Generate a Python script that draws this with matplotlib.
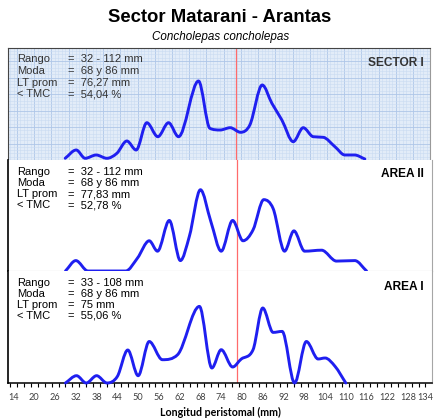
import numpy as np
import matplotlib
matplotlib.use("Agg")
import matplotlib.pyplot as plt
from matplotlib.path import Path
from matplotlib.patches import PathPatch
from matplotlib.ticker import MultipleLocator, FixedLocator
from matplotlib.transforms import ScaledTranslation

# frecuencias (%) por longitud peristomal (mm)
long_sector = [29, 32.2, 34.8, 38, 41.1, 44, 46.9, 49.6, 52.7, 55.9, 59, 61.9, 67.7, 71, 74,
               76.9, 79.9, 82.6, 86.2, 89, 91.9, 95.2, 98.1, 101, 103.9, 107.3, 110.2, 113, 116]
frec_sector = [0.17, 1.0, 0.17, 0.5, 0.17, 0.67, 1.9, 1.0, 3.73, 2.33, 3.73, 2.33, 7.9, 3.17, 3.0,
               3.23, 2.77, 3.5, 7.5, 5.67, 4.0, 1.83, 3.23, 2.33, 2.27, 1.33, 0.5, 0.5, 0.1]

long_area2 = [29, 32, 35.5, 40, 46.4, 49.8, 53.2, 55.6, 59, 62.2, 64.8, 68, 71, 74,
              77.3, 80.3, 83.2, 86.3, 89, 92.3, 95, 98.1, 103, 107.3, 112.6, 116]
frec_area2 = [0.0, 1.05, 0.0, 0.0, 0.0, 1.3, 3.05, 2.0, 5.1, 1.05, 3.5, 8.2, 5.0, 2.0,
              5.1, 3.05, 4.15, 7.2, 6.3, 2.0, 4.05, 2.0, 2.1, 1.0, 1.05, 0.0]

long_area1 = [29, 32.2, 35, 38, 41, 44, 47, 50, 53.2, 57, 61.4, 67.7, 71.3, 74, 77.3, 79.8,
              83.2, 86, 89, 91.6, 95.2, 98.6, 102, 104, 106.9, 110]
frec_area1 = [0.0, 0.73, 0.0, 0.73, 0.0, 0.66, 3.3, 0.73, 4.15, 2.33, 2.83, 7.66, 1.5, 3.33, 1.6, 2.4,
              3.33, 7.5, 5.06, 5.16, 0.0, 4.15, 2.4, 2.5, 1.66, 0.0]

paneles = ["SECTOR I", "AREA II", "AREA I"]
stats_labels = ["Rango", "Moda", "LT prom", "< TMC"]
stats_sector = ["=  32 - 112 mm", "=  68 y 86 mm", "=  76,27 mm", "=  54,04 %"]
stats_area2 = ["=  32 - 112 mm", "=  68 y 86 mm", "=  77,83 mm", "=  52,78 %"]
stats_area1 = ["=  33 - 108 mm", "=  68 y 86 mm", "=  75 mm", "=  55,06 %"]
tmc = 78.5
xticks = list(range(14, 135, 6))

W, H = 435, 420


def fx(px):
    return px / W


def fy(py):
    return 1 - py / H


def smooth_path(x, y):
    # curva suavizada (hermite monotona) como trazado bezier
    x = np.asarray(x, float)
    y = np.asarray(y, float)
    d = np.diff(y) / np.diff(x)
    m = np.zeros_like(y)
    m[1:-1] = (d[:-1] + d[1:]) / 2
    m[0] = d[0]
    m[-1] = d[-1]
    for i in range(1, len(y) - 1):
        if d[i - 1] * d[i] <= 0:
            m[i] = 0
    for i in range(len(d)):
        if d[i] == 0:
            m[i] = m[i + 1] = 0
        else:
            a, b = m[i] / d[i], m[i + 1] / d[i]
            s = a * a + b * b
            if s > 9:
                t = 3 / np.sqrt(s)
                m[i] = t * a * d[i]
                m[i + 1] = t * b * d[i]
    verts = [(x[0], y[0])]
    codes = [Path.MOVETO]
    for i in range(len(d)):
        h = x[i + 1] - x[i]
        verts += [(x[i] + h / 3, y[i] + m[i] * h / 3),
                  (x[i + 1] - h / 3, y[i + 1] - m[i + 1] * h / 3),
                  (x[i + 1], y[i + 1])]
        codes += [Path.CURVE4] * 3
    return Path(verts, codes)


fig = plt.figure(figsize=(4.35, 4.2), dpi=100)
fig.patch.set_facecolor("white")

ax_s = fig.add_axes([fx(8), fy(160), fx(430) - fx(8), (160 - 48) / H])
ax_2 = fig.add_axes([fx(8), fy(271), fx(432) - fx(8), (271 - 160) / H])
ax_1 = fig.add_axes([fx(8), fy(383), fx(432) - fx(8), (383 - 271) / H])

series = [(ax_s, long_sector, frec_sector), (ax_2, long_area2, frec_area2), (ax_1, long_area1, frec_area1)]

for ax, xs, ys in series:
    ax.set_xlim(12.4, 134.9)
    ax.set_ylim(0, 11.2)
    ax.set_yticks([])
    ax.axvline(tmc, color="#ff6b6b", lw=0.9, zorder=2)
    ax.add_patch(PathPatch(smooth_path(xs, ys), fill=False, edgecolor="#1f1ff0", lw=2.1,
                           clip_on=False, zorder=5, capstyle="round", joinstyle="round"))

# papel milimetrado del sector
ax_s.set_facecolor("#e2ecf8")
ax_s.xaxis.set_major_locator(MultipleLocator(5))
ax_s.xaxis.set_minor_locator(MultipleLocator(1))
ax_s.yaxis.set_major_locator(MultipleLocator(1.65))
ax_s.yaxis.set_minor_locator(MultipleLocator(0.33))
ax_s.grid(which="major", color="#aec6e8", lw=0.6)
ax_s.grid(which="minor", color="#c9dbf2", lw=0.4)
ax_s.set_axisbelow(True)
ax_s.tick_params(which="both", length=0, labelbottom=False, labelleft=False)
for side in ["top", "left"]:
    ax_s.spines[side].set_color("#444444")
ax_s.spines["right"].set_color("#999999")
ax_s.spines["bottom"].set_color("#9fb6d6")

for ax in [ax_2, ax_1]:
    ax.spines["top"].set_visible(False)
    ax.spines["right"].set_color("#a6a6a6")
    ax.spines["left"].set_color("black")
    ax.spines["left"].set_linewidth(1.2)

ax_2.spines["bottom"].set_color("#a6a6a6")
ax_2.set_xticks([])

ax_1.spines["bottom"].set_color("black")
ax_1.spines["bottom"].set_linewidth(1.1)
ax_1.xaxis.set_major_locator(FixedLocator(xticks))
ax_1.xaxis.set_minor_locator(MultipleLocator(2, offset=1))
ax_1.tick_params(axis="x", which="major", length=0, pad=7, labelsize=6.6, labelcolor="#404040")
ax_1.tick_params(axis="x", which="minor", length=3, width=0.8, color="black")
etiquetas = ax_1.get_xticklabels()
for lab in etiquetas:
    lab.set_fontfamily("Lato")
# la ultima etiqueta queda pegada al borde
etiquetas[-1].set_transform(etiquetas[-1].get_transform() + ScaledTranslation(-2.5 / 72, 0, fig.dpi_scale_trans))

# titulos
fig.text(fx(220), fy(17), "Sector Matarani - Arantas", ha="center", va="center",
         fontsize=13.3, fontweight="bold", family="Liberation Sans")
fig.text(fx(221), fy(37), "Concholepas concholepas", ha="center", va="center",
         fontsize=8.4, style="italic", family="Liberation Sans")
fig.text(fx(220), fy(412), "Longitud peristomal (mm)", ha="center", va="center",
         fontsize=7.7, fontweight="bold", family="Lato")

# estadisticos de cada panel
bloques = [(stats_sector, 58.5, 11.6, "#333333", 62.5, paneles[0]),
           (stats_area2, 170.7, 11.2, "black", 174.3, paneles[1]),
           (stats_area1, 281.7, 11.1, "black", 286.7, paneles[2])]
for vals, y0, dy, col, ytit, nombre in bloques:
    for i in range(4):
        yb = y0 + dy * i + 4
        fig.text(fx(17), fy(yb), stats_labels[i], ha="left", va="baseline",
                 fontsize=8, color=col, family="Liberation Sans")
        fig.text(fx(68), fy(yb), vals[i], ha="left", va="baseline",
                 fontsize=8, color=col, family="Liberation Sans")
    fig.text(fx(424), fy(ytit), nombre, ha="right", va="center", fontsize=8.6,
             fontweight="bold", color="#333333" if nombre == "SECTOR I" else "black",
             family="Liberation Sans")

fig.savefig("out.png", dpi=100, facecolor="white")
